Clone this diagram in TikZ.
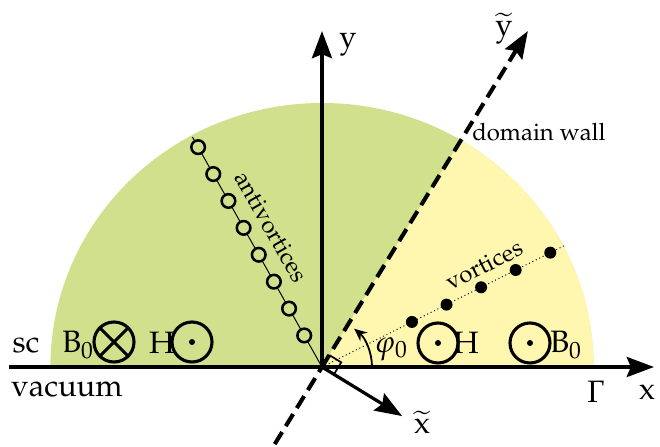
\documentclass[tikz,border=0pt]{standalone}
\usepackage[T1]{fontenc}
\usepackage{mathpazo}
\usetikzlibrary{arrows.meta}

\definecolor{scgreen}{RGB}{209,224,140}
\definecolor{scyellow}{RGB}{255,247,176}

\tikzset{
    bigtip/.style={-{Stealth[length=0.68cm, width=0.5cm, inset=0.1cm]}},
    axis/.style={line width=2.6pt, bigtip},
    wall/.style={line width=2.9pt, dash pattern=on 10pt off 5pt},
    fieldcirc/.style={circle, draw, line width=2.2pt, minimum size=1cm, inner sep=0pt},
    vortex/.style={circle, fill=black, minimum size=0.3cm, inner sep=0pt},
    antivortex/.style={circle, draw, line width=1.8pt, minimum size=0.34cm, inner sep=0pt},
    bigtext/.style={font=\fontsize{22}{26}\selectfont},
    midtext/.style={font=\fontsize{17}{20}\selectfont},
}

\begin{document}
\begin{tikzpicture}[>=stealth]
    \useasboundingbox (-8.05,-2.0) rectangle (8.45,9.175);

    % Superconducting half plane
    \fill[scgreen] (-6.79,0) arc[start angle=180, end angle=0, x radius=6.79, y radius=6.6] -- cycle;
    \begin{scope}
        \clip (0,0) -- (58.5:12) -- (12,0) -- cycle;
        \fill[scyellow] (-6.79,0) arc[start angle=180, end angle=0, x radius=6.79, y radius=6.6] -- cycle;
    \end{scope}

    \coordinate (O) at (0,0);

    % Antivortices
    \coordinate (aend) at (119.4:6.6);
    \draw[line width=0.7pt] (O) -- (aend);
    \foreach \i in {0,...,7} {
        \node[antivortex, fill=scgreen] (av\i) at (119.4:0.905+\i*0.772) {};
    }
    \node[midtext, rotate=-60.5] (alabel) at (-1.275,3.5) {antivortices};

    % Vortices
    \coordinate (vend) at (26.6:6.8);
    \draw[line width=0.7pt, dotted] (O) -- (vend);
    \foreach \i in {0,...,4} {
        \node[vortex] (v\i) at (26.6:2.515+\i*0.967) {};
    }
    \node[midtext, rotate=27] (vlabel) at (4.05,2.55) {vortices};

    % Axes
    \coordinate (xstart) at (-7.83,0);
    \coordinate (xend) at (8.3,0);
    \coordinate (yend) at (0,8.4);
    \draw[axis] (xstart) -- (xend);
    \draw[axis] (O) -- (yend);
    \node[bigtext] (xlab) at (8.125,-0.62) {x};
    \node[bigtext] (ylab) at (0.65,8.05) {y};
    \node[bigtext] (gamma) at (6.85,-0.62) {$\Gamma$};

    % Domain wall and rotated frame
    \coordinate (wstart) at (238.5:2.26);
    \coordinate (wend) at (58.5:9.85);
    \draw[wall] (wstart) -- (O);
    \draw[wall, bigtip] (O) -- (wend);
    \coordinate (xtend) at (-31.5:2.35);
    \draw[axis, line width=2.3pt] (O) -- (xtend);
    \node[bigtext] (xtlab) at (2.5,-1.38) {$\widetilde{\mbox{x}}$};
    \node[bigtext] (ytlab) at (4.55,8.45) {$\widetilde{\mbox{y}}$};
    \node[midtext] (wlabel) at (5.425,5.875) {domain wall};

    % Right angle and angle phi_0
    \draw[line width=1.2pt] (58.5:0.35) -- ++(-31.5:0.35) -- ++(238.5:0.35);
    \draw[line width=1.3pt, -{Stealth[length=0.32cm, width=0.28cm]}] (1.25,0) arc[start angle=0, end angle=50, radius=1.25];
    \node[bigtext] (phi) at (1.725,0.45) {$\varphi_0$};

    % Fields in the left domain
    \node[bigtext] (sc) at (-7.4,0.55) {sc};
    \node[bigtext] (vac) at (-6.375,-0.55) {vacuum};
    \node[bigtext] (bl) at (-6.1,0.55) {B$_0$};
    \node[fieldcirc] (bcross) at (-5.2,0.625) {};
    \draw[line width=2.2pt] (bcross.north west) -- (bcross.south east);
    \draw[line width=2.2pt] (bcross.north east) -- (bcross.south west);
    \node[bigtext] (hl) at (-4.0,0.6) {H};
    \node[fieldcirc] (hdotl) at (-3.25,0.625) {};
    \fill (hdotl.center) circle (0.075);

    % Fields in the right domain
    \node[fieldcirc] (hdotr) at (2.9,0.6) {};
    \fill (hdotr.center) circle (0.075);
    \node[bigtext] (hr) at (3.6,0.6) {H};
    \node[fieldcirc] (bdotr) at (5.2,0.6) {};
    \fill (bdotr.center) circle (0.075);
    \node[bigtext] (br) at (6.1,0.55) {B$_0$};
\end{tikzpicture}
\end{document}
